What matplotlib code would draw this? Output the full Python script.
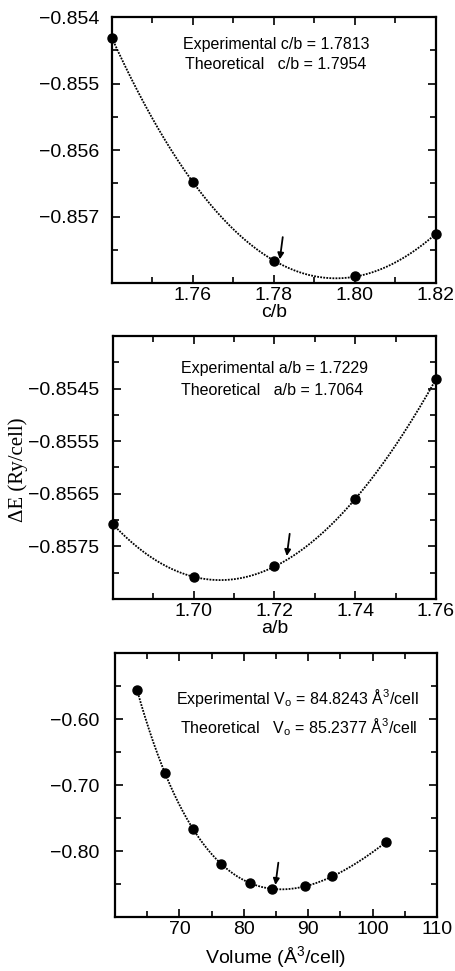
import numpy as np
import matplotlib.pyplot as plt
from matplotlib.ticker import MultipleLocator

plt.rcParams['font.family'] = 'Liberation Sans'
plt.rcParams['mathtext.fontset'] = 'custom'
plt.rcParams['mathtext.rm'] = 'Liberation Sans'
plt.rcParams['mathtext.it'] = 'Liberation Sans:italic'

# energy vs c/b
cb = [1.74, 1.76, 1.78, 1.80, 1.82]
e_cb = [-0.85432, -0.85648, -0.85767, -0.85790, -0.85726]
cb_exp, cb_th = 1.7813, 1.7954

# energy vs a/b
ab = [1.68, 1.70, 1.72, 1.74, 1.76]
e_ab = [-0.85708, -0.85808, -0.85788, -0.85660, -0.85432]
ab_exp, ab_th = 1.7229, 1.7064

# energy vs volume
vol = [63.4, 67.8, 72.1, 76.4, 80.9, 84.4, 89.5, 93.7, 102.1]
e_vol = [-0.5556, -0.6818, -0.7667, -0.8197, -0.8480, -0.8570, -0.8536, -0.8385, -0.7865]
v_exp, v_th = 84.8243, 85.2377

# ticks / labels
cb_ticks = [1.74, 1.76, 1.78, 1.80, 1.82]
cb_labels = ['', '1.76', '1.78', '1.80', '1.82']
ecb_ticks = [-0.858, -0.857, -0.856, -0.855, -0.854]
ecb_labels = ['', '\u22120.857', '\u22120.856', '\u22120.855', '\u22120.854']
ab_ticks = [1.68, 1.70, 1.72, 1.74, 1.76]
ab_labels = ['', '1.70', '1.72', '1.74', '1.76']
eab_ticks = [-0.8575, -0.8565, -0.8555, -0.8545]
eab_labels = ['\u22120.8575', '\u22120.8565', '\u22120.8555', '\u22120.8545']
vol_ticks = [60, 70, 80, 90, 100, 110]
vol_labels = ['', '70', '80', '90', '100', '110']
ev_ticks = [-0.90, -0.80, -0.70, -0.60, -0.50]
ev_labels = ['', '\u22120.80', '\u22120.70', '\u22120.60', '']

W, H = 455, 971
fig = plt.figure(figsize=(W / 100, H / 100), dpi=100)


def box(l, r, t, b):
    return [l / W, 1 - b / H, (r - l) / W, (b - t) / H]


ax1 = fig.add_axes(box(112, 436, 17, 283))
ax2 = fig.add_axes(box(113, 436, 336, 599))
ax3 = fig.add_axes(box(115, 437, 653, 917))


def style(ax, xmin, ymin, ypad):
    for s in ax.spines.values():
        s.set_linewidth(1.6)
    ax.xaxis.set_minor_locator(MultipleLocator(xmin))
    ax.yaxis.set_minor_locator(MultipleLocator(ymin))
    ax.tick_params(which='both', direction='in', top=True, right=True, width=1.2, labelsize=14)
    ax.tick_params(which='major', length=6)
    ax.tick_params(which='minor', length=4)
    ax.tick_params(axis='x', pad=3)
    ax.tick_params(axis='y', pad=ypad)


def draw(ax, x, y, curve_x, curve_y, xe, ye):
    ax.plot(curve_x, curve_y, color='k', lw=1.3, ls=(0, (1, 0.7)))
    ax.plot(x, y, 'o', color='k', ms=6.5, clip_on=False, zorder=3)
    ax.annotate('', xy=(xe, ye), xytext=(2.5, 19), textcoords='offset points',
                arrowprops=dict(arrowstyle='-|>', color='k', lw=1.3, mutation_scale=9,
                                shrinkA=0, shrinkB=3))


# panel 1
p = np.polyfit(cb, e_cb, 3)
xs = np.linspace(cb[0], cb[-1], 200)
draw(ax1, cb, e_cb, xs, np.polyval(p, xs), cb_exp, np.polyval(p, cb_exp))
ax1.set_xlim(1.74, 1.82)
ax1.set_ylim(-0.858, -0.854)
ax1.set_xticks(cb_ticks, cb_labels)
ax1.set_yticks(ecb_ticks, ecb_labels)
style(ax1, 0.01, 0.0005, 9)
ax1.set_xlabel('c/b', fontsize=14, labelpad=0)
ax1.text(0.219, 0.898, 'Experimental c/b = %.4f' % cb_exp, transform=ax1.transAxes,
         fontsize=11.5, va='center')
ax1.text(0.225, 0.823, 'Theoretical   c/b = %.4f' % cb_th, transform=ax1.transAxes,
         fontsize=11.5, va='center')

# panel 2
p = np.polyfit(ab, e_ab, 3)
xs = np.linspace(ab[0], ab[-1], 200)
draw(ax2, ab, e_ab, xs, np.polyval(p, xs), ab_exp, np.polyval(p, ab_exp))
ax2.set_xlim(1.68, 1.76)
ax2.set_ylim(-0.8585, -0.8535)
ax2.set_xticks(ab_ticks, ab_labels)
ax2.set_yticks(eab_ticks, eab_labels)
style(ax2, 0.01, 0.0005, 10)
ax2.set_xlabel('a/b', fontsize=14, labelpad=0)
ax2.text(0.21, 0.878, 'Experimental a/b = %.4f' % ab_exp, transform=ax2.transAxes,
         fontsize=11.5, va='center')
ax2.text(0.21, 0.791, 'Theoretical   a/b = %.4f' % ab_th, transform=ax2.transAxes,
         fontsize=11.5, va='center')

# panel 3 (fit in V^-2/3 like an equation of state)
vv = np.array(vol)
p = np.polyfit(vv ** (-2 / 3), e_vol, 3)
xs = np.linspace(vv[0], vv[-1], 300)
draw(ax3, vol, e_vol, xs, np.polyval(p, xs ** (-2 / 3)), v_exp, np.polyval(p, v_exp ** (-2 / 3)))
ax3.set_xlim(60, 110)
ax3.set_ylim(-0.90, -0.50)
ax3.set_xticks(vol_ticks, vol_labels)
ax3.set_yticks(ev_ticks, ev_labels)
style(ax3, 5, 0.05, 11)
ax3.set_xlabel('Volume (\u00c5$^3$/cell)', fontsize=14, labelpad=4)
ax3.text(0.189, 0.83, 'Experimental V$_\\mathrm{o}$ = %.4f \u00c5$^3$/cell' % v_exp,
         transform=ax3.transAxes, fontsize=11.5, va='center')
ax3.text(0.201, 0.72, 'Theoretical   V$_\\mathrm{o}$ = %.4f \u00c5$^3$/cell' % v_th,
         transform=ax3.transAxes, fontsize=11.5, va='center')

fig.text(18 / W, 1 - 470 / H, '\u0394E (Ry/cell)', rotation=90, family='Liberation Serif',
         fontsize=15, ha='center', va='center')

fig.savefig('out.png', dpi=100)
